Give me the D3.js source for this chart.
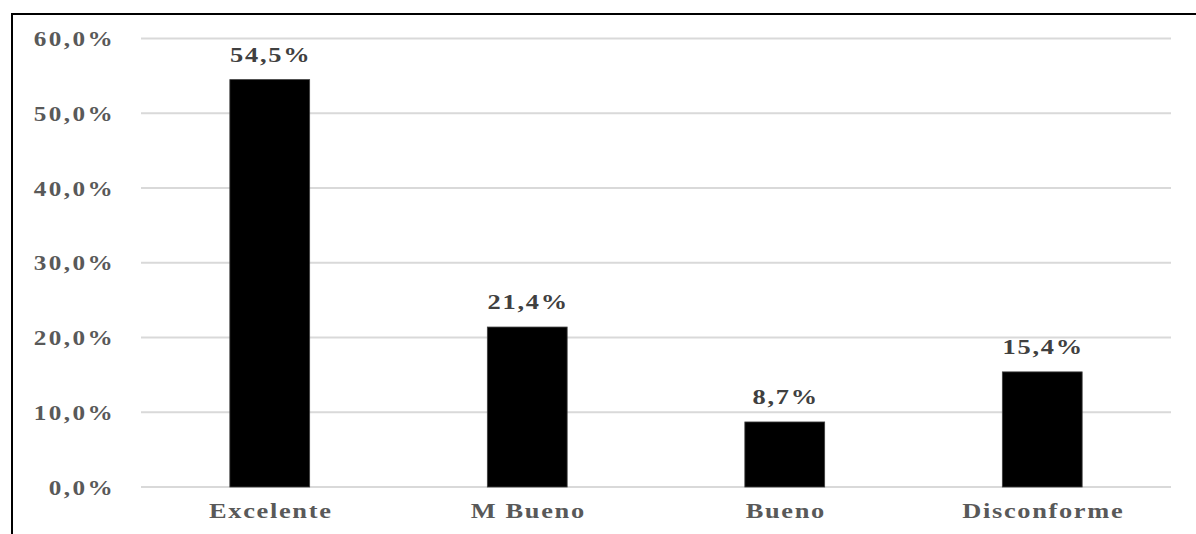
<!DOCTYPE html>
<html>
<head>
<meta charset="utf-8">
<script src="https://cdn.jsdelivr.net/npm/d3@7/dist/d3.min.js"></script>
<style>
  html, body { margin: 0; padding: 0; background: #fff; }
  svg { display: block; }
</style>
</head>
<body>
<svg id="chart" width="1196" height="534"></svg>
<script>
// Survey rating distribution
const categories = ["Excelente", "M Bueno", "Bueno", "Disconforme"];
const values = [54.5, 21.4, 8.7, 15.4];
const tickValues = [0, 10, 20, 30, 40, 50, 60];

const fmt = v => v.toFixed(1).replace(".", ",") + "%";
const FONT = "'Liberation Serif', 'Times New Roman', serif";

const svg = d3.select("#chart");
const W = 1196, H = 534;
const margin = { left: 141, right: 25, top: 38.5, bottom: 47 };

// Frame: left and top edges
svg.append("line").attr("x1", 12).attr("x2", 12).attr("y1", 13).attr("y2", H)
  .attr("stroke", "#000").attr("stroke-width", 2);
svg.append("line").attr("x1", 11).attr("x2", W).attr("y1", 14).attr("y2", 14)
  .attr("stroke", "#000").attr("stroke-width", 2);

const x = d3.scaleBand().domain(categories)
  .range([margin.left, W - margin.right])
  .paddingInner(0.69).paddingOuter(0.345);
const y = d3.scaleLinear().domain([0, 60]).range([H - margin.bottom, margin.top]);

// Gridlines
svg.append("g").selectAll("line").data(tickValues).join("line")
  .attr("x1", margin.left).attr("x2", 1171)
  .attr("y1", d => y(d)).attr("y2", d => y(d))
  .attr("stroke", "#d9d9d9").attr("stroke-width", 2);

// Y axis labels (wide bold serif)
const yAxis = d3.axisLeft(y).tickValues(tickValues).tickFormat(fmt).tickSize(0).tickPadding(0);
const yg = svg.append("g").attr("transform", "translate(115,0)").call(yAxis);
yg.select(".domain").remove();
yg.selectAll("text")
  .attr("font-family", FONT)
  .attr("font-weight", "bold").attr("font-size", 21)
  .attr("letter-spacing", 2)
  .attr("fill", "#595959").attr("dy", 7)
  .attr("transform", "scale(1.2,1)");

// Bars
svg.append("g").selectAll("rect").data(values).join("rect")
  .attr("x", (d, i) => x(categories[i]))
  .attr("width", x.bandwidth())
  .attr("y", d => y(d))
  .attr("height", d => y(0) - y(d))
  .attr("fill", "#000").attr("stroke", "#404040").attr("stroke-width", 0.8);

// Value labels
svg.append("g").selectAll("text").data(values).join("text")
  .attr("transform", (d, i) =>
    `translate(${x(categories[i]) + x.bandwidth() / 2 + 1},${y(d) - 18}) scale(1.2,1)`)
  .attr("text-anchor", "middle")
  .attr("font-family", FONT)
  .attr("font-weight", "bold").attr("font-size", 22)
  .attr("letter-spacing", 1.5)
  .attr("fill", "#404040")
  .text(fmt);

// X axis labels
const xAxis = d3.axisBottom(x).tickSize(0).tickPadding(0);
const xg = svg.append("g").attr("transform", `translate(1,${y(0) + 31})`).call(xAxis);
xg.select(".domain").remove();
xg.selectAll("text")
  .attr("font-family", FONT)
  .attr("font-weight", "bold").attr("font-size", 22)
  .attr("letter-spacing", 1.4)
  .attr("fill", "#595959").attr("dy", "0")
  .attr("transform", "scale(1.2,1)");
</script>
</body>
</html>
